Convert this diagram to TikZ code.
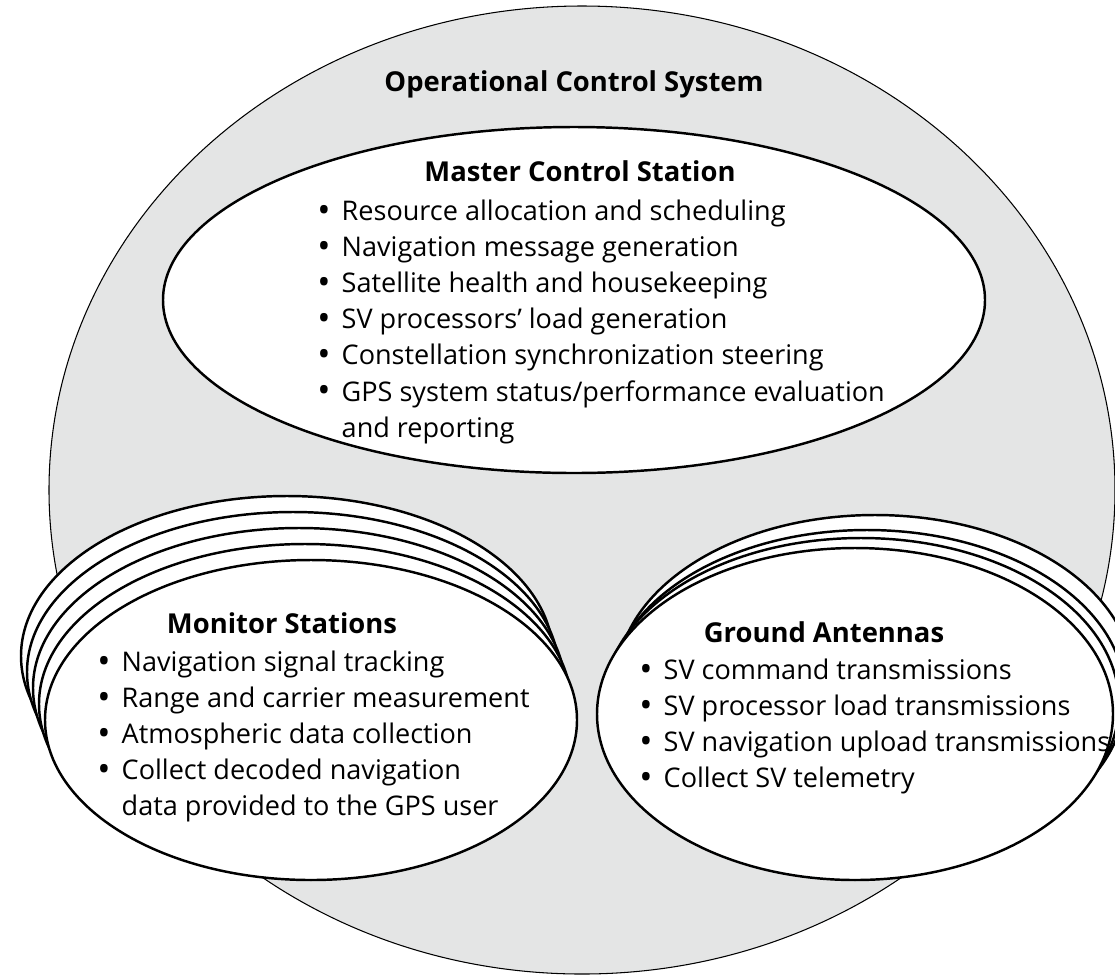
\documentclass[tikz,border=0pt]{standalone}
\usepackage{fontspec}
\setmainfont{Open Sans}
\usepackage{tikz}
\usetikzlibrary{positioning}
\definecolor{ocsgray}{RGB}{228,229,229}
\newcommand{\stitem}{\makebox[0.9em][l]{\raisebox{-0.12ex}{\fontsize{20}{20}\selectfont\textbullet}}}
\newcommand{\stcont}{\hspace*{0.9em}}
\tikzset{
ocsfill/.style={fill=ocsgray,draw=black,line width=0.6pt},
stationshape/.style={fill=white,draw=black,line width=1.4pt},
sttitle/.style={font=\bfseries\fontsize{15.6}{20.5}\selectfont,inner sep=0pt},
stlist/.style={align=left,anchor=north west,inner sep=0pt,font=\fontsize{15.4}{20.5}\selectfont}
}

\begin{document}
\begin{tikzpicture}[
x=0.02cm,
y=-0.02cm
]
\clip (0,0) rectangle (1115,975);
\useasboundingbox (0,0) rectangle (1115,975);
% operational control system
\draw[ocsfill] (582,490) ellipse [x radius=533, y radius=484];
% master control station
\draw[stationshape] (574,300) ellipse [x radius=411, y radius=173];
% monitor stations, back to front
\foreach \k in {4,3,2,1,0}
  \draw[stationshape] ({311-6*\k},{720-16*\k}) ellipse [x radius=266, y radius=160];
% ground antennas, back to front
\foreach \dx/\dy in {20/33,12/18,6/10,0/0}
  \draw[stationshape] ({855+\dx},{714-\dy}) ellipse [x radius=258, y radius=166];
\node[sttitle] (ocs) at (574,84) {Operational Control System};
\node[sttitle] (mcstitle) at (580,171) {Master Control Station};
\node[stlist] (mcslist) at (317,200) {\stitem Resource allocation and scheduling\\
  \stitem Navigation message generation\\
  \stitem Satellite health and housekeeping\\
  \stitem SV processors’ load generation\\
  \stitem Constellation synchronization steering\\
  \stitem GPS system status/performance evaluation\\
  \stcont and reporting};
\node[sttitle] (mstitle) at (282,623) {Monitor Stations};
\node[stlist] (mslist) at (97,651) {\stitem Navigation signal tracking\\
  \stitem Range and carrier measurement\\
  \stitem Atmospheric data collection\\
  \stitem Collect decoded navigation\\
  \stcont data provided to the GPS user};
\node[sttitle] (gatitle) at (824,632) {Ground Antennas};
\node[stlist] (galist) at (639,659) {\stitem SV command transmissions\\
  \stitem SV processor load transmissions\\
  \stitem SV navigation upload transmissions\\
  \stitem Collect SV telemetry};
\end{tikzpicture}
\end{document}
